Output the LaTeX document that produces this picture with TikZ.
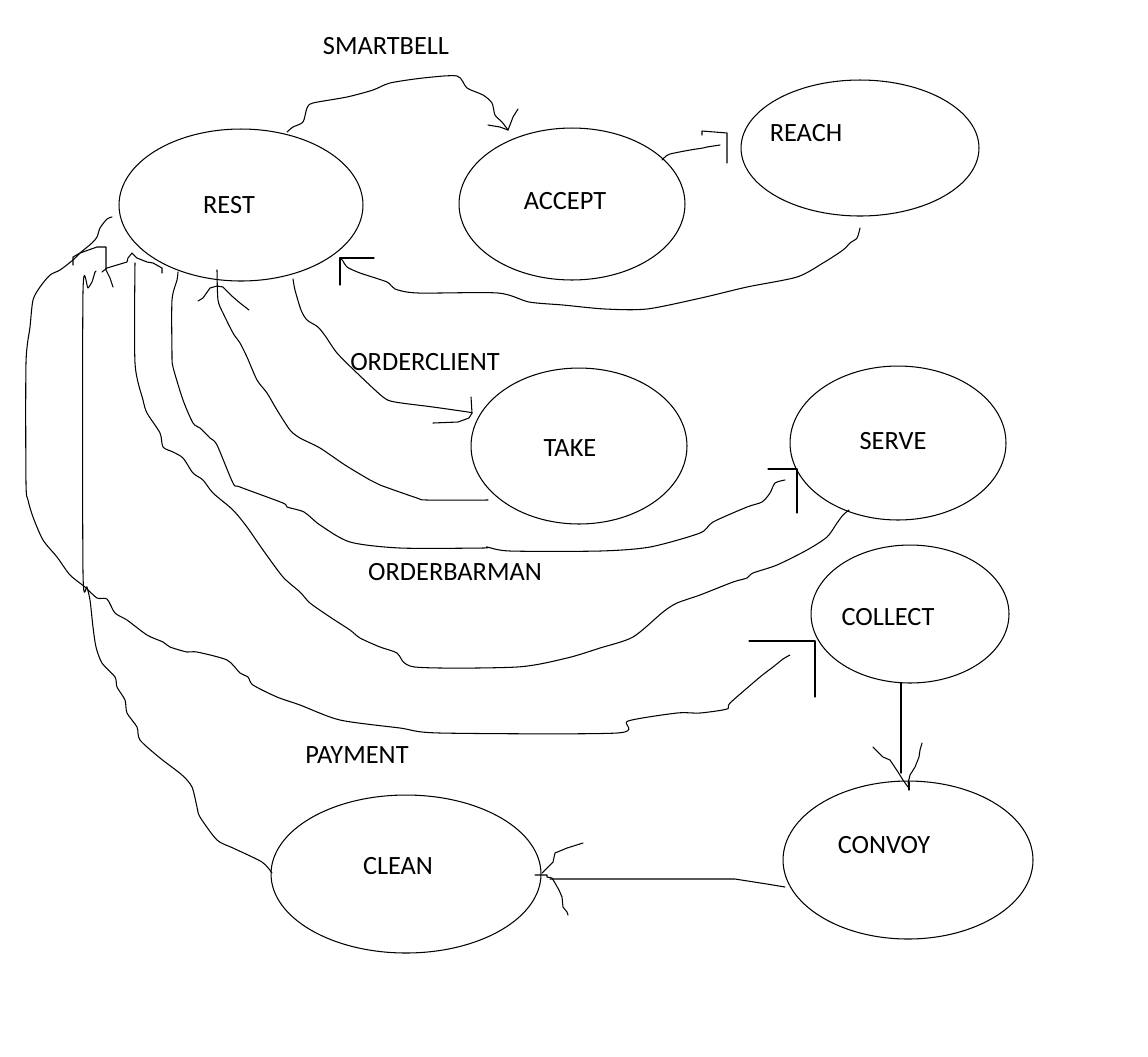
\documentclass[tikz,border=0pt]{standalone}
\usepackage{fontspec}
\setmainfont{Carlito}
\usetikzlibrary{shapes.geometric}
\begin{document}
\begin{tikzpicture}[x=0.02cm,y=-0.02cm,
  st/.style={draw, ellipse, inner sep=0pt, line width=0.6pt},
  lbl/.style={font=\fontsize{15}{18}\selectfont, inner sep=0pt},
  wire/.style={line width=0.6pt, line join=round, line cap=round},
  sm/.style={smooth, tension=0.45}]
\useasboundingbox (0,0) rectangle (1148,1056);
\fill[white] (0,0) rectangle (1148,1056);

% states
\node[st, minimum width=4.88cm, minimum height=3.04cm] (rest) at (241,205) {};
\node[st, minimum width=4.52cm, minimum height=3.04cm] (accept) at (572,204) {};
\node[st, minimum width=4.76cm, minimum height=2.72cm] (reach) at (860,148) {};
\node[st, minimum width=4.32cm, minimum height=3.12cm] (take) at (579,446) {};
\node[st, minimum width=4.32cm, minimum height=3.08cm] (serve) at (898,443) {};
\node[st, minimum width=3.96cm, minimum height=2.76cm] (collect) at (910,614) {};
\node[st, minimum width=5.00cm, minimum height=3.16cm] (convoy) at (908,860) {};
\node[st, minimum width=5.40cm, minimum height=3.16cm] (clean) at (406,874) {};

% texts
\node[lbl] (restT) at (229,205) {REST};
\node[lbl] (acceptT) at (565,201) {ACCEPT};
\node[lbl] (reachT) at (806,133) {REACH};
\node[lbl] (takeT) at (570,448) {TAKE};
\node[lbl] (serveT) at (893,441) {SERVE};
\node[lbl] (collectT) at (888,617) {COLLECT};
\node[lbl] (convoyT) at (884,845) {CONVOY};
\node[lbl] (cleanT) at (398,866) {CLEAN};
\node[lbl] (smartbell) at (386,46) {SMARTBELL};
\node[lbl] (orderclient) at (425,362) {ORDERCLIENT};
\node[lbl] (orderbarman) at (455,572) {ORDERBARMAN};
\node[lbl] (payment) at (357,755) {PAYMENT};

% REST -> ACCEPT (SMARTBELL)
\draw[wire] plot[sm] coordinates {(287,132) (293,127) (303,122) (307,108) (313,103) (347,97) (373,90) (390,83) (423,78) (457,76) (467,88) (483,95) (492,103) (495,115) (502,122) (508,130)};
\draw[wire] (488,125) -- (500,127) -- (508,130);
\draw[wire] (518,109) -- (513,117) -- (510,125) -- (508,130);

% ACCEPT -> REACH
\draw[wire] plot[sm] coordinates {(662,160) (665,157) (670,154) (690,150) (703,148) (707,147) (720,145)};
\draw[wire] (702,135) -- (702,131) -- (727,133) -- (727,163);

% REACH -> REST
\draw[wire] plot[sm] coordinates {(860,228) (857,238) (850,243) (843,250) (823,263) (797,277) (747,287) (701,298) (647,309) (605,309) (563,305) (529,302) (498,293) (418,293) (395,289) (387,282) (360,273) (347,267) (343,261) (340,258)};
\draw[wire] (374,258) -- (340,258) -- (340,285);

% REST -> TAKE (ORDERCLIENT)
\draw[wire] plot[sm] coordinates {(293,279) (295,290) (301,310) (307,320) (318,327) (326,337) (337,353) (357,373) (383,397) (395,402) (433,407) (468,412) (472,413)};
\draw[wire] (471,397) -- (472,413);
\draw[wire] (433,423) -- (458,422) -- (469,418) -- (472,413);

% TAKE -> REST
\draw[wire] plot[sm] coordinates {(488,500) (427,500) (417,498) (380,485) (370,480) (345,465) (320,448) (300,438) (290,430) (277,410) (267,393) (257,380) (247,357) (240,343) (233,333) (223,313) (218,300) (217,270)};
\draw[wire] (198,301) -- (203,298) -- (210,288) -- (217,286) -- (223,287) -- (233,297) -- (240,303) -- (249,310);

% REST -> SERVE
\draw[wire] plot[sm] coordinates {(178,272) (177,280) (172,300) (172,353) (173,367) (183,400) (193,423) (200,428) (210,438) (217,445) (233,483) (240,487) (283,503) (287,507) (304,512) (320,525) (350,542) (400,548) (483,548) (487,547) (510,551) (600,551) (650,547) (700,533) (713,522) (747,507) (762,502) (770,493) (775,483) (785,480)};
\draw[wire] (768,469) -- (797,469) -- (797,513);

% SERVE -> REST
\draw[wire] plot[sm] coordinates {(849,510) (843,515) (837,523) (827,537) (807,550) (777,565) (753,573) (747,578) (733,582) (700,595) (677,603) (663,612) (633,637) (600,648) (567,658) (517,667) (415,667) (397,653) (380,647) (360,638) (350,630) (330,617) (310,603) (300,592) (283,577) (263,550) (247,527) (233,510) (213,493) (203,480) (193,473) (183,458) (173,452) (163,447) (160,433) (147,413) (143,400) (135,363) (135,263)};
\draw[wire] (102,272) -- (107,268) -- (117,265) -- (127,262) -- (128,258) -- (132,253) -- (137,258) -- (147,262) -- (153,263) -- (162,268) -- (162,273);

% REST -> COLLECT
\draw[wire] plot[sm] coordinates {(112,217) (107,219) (100,228) (97,237) (92,243) (80,253) (73,260) (60,270) (50,275) (40,287) (33,300) (30,327) (26,363) (26,483) (28,500) (33,517) (43,540) (57,557) (70,575) (85,587) (97,598) (107,599) (115,613) (127,620) (147,635) (163,642) (170,647) (187,652) (197,652) (227,660) (240,673) (248,677) (253,685) (277,697) (300,705) (340,720) (400,728) (440,733) (617,733) (628,721) (677,713) (700,713) (727,709) (730,703) (760,677) (773,667) (783,659) (790,655)};
\draw[wire] (749,641) -- (815,641) -- (815,697);

% CLEAN -> REST (PAYMENT)
\draw[wire] plot[sm] coordinates {(272,873) (262,862) (233,848) (217,840) (200,817) (197,807) (192,787) (182,775) (160,758) (140,740) (137,727) (127,713) (125,700) (117,687) (115,677) (102,663) (96,647) (93,627) (90,600) (87,587) (83,572) (83,292) (88,288) (92,282) (95,272) (96,271)};
\draw[wire] (73,265) -- (73,257) -- (80,253) -- (97,247) -- (106,247) -- (106,270) -- (110,278) -- (113,287);

% COLLECT -> CONVOY
\draw[wire] (901,683) -- (901,773);
\draw[wire] (873,747) -- (883,757) -- (890,760) -- (898,772) -- (903,780) -- (908,787);
\draw[wire] (922,743) -- (920,750) -- (919,757) -- (915,767) -- (910,775) -- (908,783);
\draw[wire] (909,782) -- (909,790);

% CONVOY -> CLEAN
\draw[wire] (785,887) -- (767,884) -- (735,879) -- (550,879);
\draw[wire] (535,875) -- (547,875) -- (547,877) -- (552,878) -- (555,883) -- (559,890) -- (562,897) -- (563,907) -- (567,912) -- (568,915);
\draw[wire] (542,873) -- (548,867) -- (553,862) -- (555,853) -- (567,848) -- (583,843);
\end{tikzpicture}
\end{document}
